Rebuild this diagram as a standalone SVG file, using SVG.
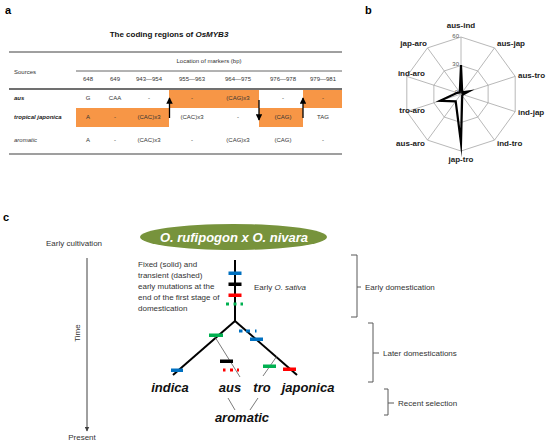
<svg xmlns="http://www.w3.org/2000/svg" width="550" height="443" viewBox="0 0 550 443">
<defs>
<style>
text{font-family:"Liberation Sans",Arial,sans-serif;fill:#222}
.pl{font-size:11px;font-weight:bold;fill:#000}
.tt{font-size:6px;text-anchor:middle;fill:#333}
.rl{font-size:6px;font-weight:bold;font-style:italic;fill:#222}
.rad{font-size:8px;font-weight:bold;fill:#222}
.ax{font-size:6px;fill:#555;text-anchor:end}
.grid{fill:none;stroke:#a6a6a6;stroke-width:0.8}
.tl{stroke:#404040;fill:none}
.org{fill:#f79646}
.c8{font-size:8px;fill:#333}
.br{fill:none;stroke:#595959;stroke-width:1}
.thin{stroke:#595959;stroke-width:0.8;fill:none}
.br2{stroke:#000;stroke-width:2;fill:none}
.lab{font-size:13px;font-weight:bold;font-style:italic;fill:#111}
.bl{fill:#0070c0}.gr{fill:#00b050}.rd{fill:#ff0000}.bk{fill:#000}
</style>
<marker id="ah" viewBox="0 0 10 10" refX="9" refY="5" markerWidth="5" markerHeight="5" orient="auto"><path d="M0,0L10,5L0,10z" fill="#000"/></marker>
<marker id="ahg" viewBox="0 0 10 10" refX="9" refY="5" markerWidth="5" markerHeight="5" orient="auto"><path d="M0,0L10,5L0,10z" fill="#404040"/></marker>
</defs>

<g id="panel-a">
<text class="pl" x="5" y="14">a</text>
<text x="169" y="37" style="font-size:8px;font-weight:bold;text-anchor:middle;fill:#111">The coding regions of <tspan font-style="italic">OsMYB3</tspan></text>
<rect class="org" x="169" y="90" width="90" height="18"/>
<rect class="org" x="303" y="90" width="39" height="18"/>
<rect class="org" x="76" y="108" width="93" height="19"/>
<rect class="org" x="259" y="108" width="44" height="19"/>
<line class="tl" x1="9" y1="52" x2="342" y2="52" stroke-width="1"/>
<line class="tl" x1="76" y1="71" x2="342" y2="71" stroke-width="0.8"/>
<line class="tl" x1="9" y1="89" x2="342" y2="89" stroke-width="1.4"/>
<line class="tl" x1="9" y1="154" x2="342" y2="154" stroke-width="1.2"/>
<text x="209" y="63" class="tt">Location of markers  (bp)</text>
<text x="14" y="74" style="font-size:6px;fill:#333">Sources</text>
<g class="hdr">
<text class="tt" x="88" y="81">648</text><text class="tt" x="115" y="81">649</text><text class="tt" x="149" y="81">943—954</text><text class="tt" x="192" y="81">955—963</text><text class="tt" x="238" y="81">964—975</text><text class="tt" x="283" y="81">976—978</text><text class="tt" x="323" y="81">979—981</text>
</g>
<text class="rl" x="14" y="100">aus</text>
<text class="tt" x="88" y="100">G</text><text class="tt" x="115" y="100">CAA</text><text class="tt" x="149" y="100">-</text><text class="tt" x="192" y="100">-</text><text class="tt" x="238" y="100">(CAG)x3</text><text class="tt" x="283" y="100">-</text><text class="tt" x="323" y="100">-</text>
<text class="rl" x="14" y="119">tropical japonica</text>
<text class="tt" x="88" y="119">A</text><text class="tt" x="115" y="119">-</text><text class="tt" x="149" y="119">(CAC)x3</text><text class="tt" x="192" y="119">(CAC)x3</text><text class="tt" x="238" y="119">-</text><text class="tt" x="283" y="119">(CAG)</text><text class="tt" x="323" y="119">TAG</text>
<text x="14" y="142" style="font-size:6px;font-style:italic;fill:#333">aromatic</text>
<text class="tt" x="88" y="142">A</text><text class="tt" x="115" y="142">-</text><text class="tt" x="149" y="142">(CAC)x3</text><text class="tt" x="192" y="142">-</text><text class="tt" x="238" y="142">(CAG)x3</text><text class="tt" x="283" y="142">(CAG)</text><text class="tt" x="323" y="142">-</text>
<line x1="169.5" y1="118" x2="169.5" y2="98" stroke="#000" stroke-width="1.3" marker-end="url(#ah)"/>
<line x1="259" y1="100" x2="259" y2="120" stroke="#000" stroke-width="1.3" marker-end="url(#ah)"/>
<line x1="303" y1="118" x2="303" y2="98" stroke="#000" stroke-width="1.3" marker-end="url(#ah)"/>
</g>

<g id="panel-b">
<text class="pl" x="365" y="14">b</text>
<polygon class="grid" points="461,37 494.5,47.9 515.2,76.4 515.2,111.6 494.5,140.1 461,151 427.5,140.1 406.8,111.6 406.8,76.4 427.5,47.9"/>
<polygon class="grid" points="461,65.5 477.75,70.94 488.11,85.19 488.11,102.81 477.75,117.06 461,122.5 444.25,117.06 433.89,102.81 433.89,85.19 444.25,70.94"/>
<path class="grid" d="M461,94L461,37M461,94L494.5,47.9M461,94L515.2,76.4M461,94L515.2,111.6M461,94L494.5,140.1M461,94L461,151M461,94L427.5,140.1M461,94L406.8,111.6M461,94L406.8,76.4M461,94L427.5,47.9"/>
<text class="ax" x="459" y="38">60</text>
<text class="ax" x="459" y="66">30</text>
<text class="ax" x="458" y="94">0</text>
<polygon points="461,65 462.2,92.4 468.6,91.5 462.9,94.6 462.2,95.6 461,143 455.7,101.3 440.1,100.8 457.2,92.8 459.8,92.4" fill="none" stroke="#000" stroke-width="2.2" stroke-linejoin="miter" stroke-miterlimit="20"/>
<text class="rad" x="461" y="28" text-anchor="middle">aus-ind</text>
<text class="rad" x="497" y="46">aus-jap</text>
<text class="rad" x="518" y="78">aus-tro</text>
<text class="rad" x="518" y="115">ind-jap</text>
<text class="rad" x="497" y="146">ind-tro</text>
<text class="rad" x="461" y="162" text-anchor="middle">jap-tro</text>
<text class="rad" x="425" y="146" text-anchor="end">aus-aro</text>
<text class="rad" x="425" y="113" text-anchor="end">tro-aro</text>
<text class="rad" x="425" y="76" text-anchor="end">ind-aro</text>
<text class="rad" x="427" y="46" text-anchor="end">jap-aro</text>
</g>

<g id="panel-c">
<text class="pl" x="3" y="221">c</text>
<text class="c8" x="46" y="246">Early cultivation</text>
<line x1="87" y1="258" x2="87" y2="431" stroke="#404040" stroke-width="1" marker-end="url(#ahg)"/>
<text class="c8" x="77" y="333" text-anchor="middle" transform="rotate(-90 77 333)" dy="3">Time</text>
<text class="c8" x="82" y="440" text-anchor="middle">Present</text>

<g id="ancestor">
<ellipse cx="233.5" cy="237" rx="93.5" ry="13" fill="#77933c"/>
<text x="234" y="242" text-anchor="middle" style="font-size:13px;font-weight:bold;font-style:italic;fill:#fff">O. rufipogon  x  O. nivara</text>
</g>

<g id="note">
<text class="c8" x="138" y="267">Fixed (solid)  and</text>
<text class="c8" x="138" y="278">transient  (dashed)</text>
<text class="c8" x="138" y="289">early mutations at the</text>
<text class="c8" x="138" y="300">end of the first stage of</text>
<text class="c8" x="138" y="311">domestication</text>
<text class="c8" x="254" y="290">Early <tspan font-style="italic">O. sativa</tspan></text>
</g>

<g id="connectors">
<line class="br2" x1="235" y1="260" x2="235" y2="321"/>
<line class="br2" x1="235" y1="321" x2="173" y2="375"/>
<line class="br2" x1="235" y1="321" x2="297" y2="375"/>
<line class="thin" x1="215" y1="337" x2="240" y2="377"/>
<line class="thin" x1="277" y1="356" x2="263" y2="376"/>
<line class="thin" x1="228" y1="398" x2="235" y2="410"/>
<line class="thin" x1="258" y1="398" x2="250" y2="410"/>
</g>

<g id="mutations">
<rect class="bl" x="228.5" y="271.5" width="13" height="3.5"/>
<rect class="bk" x="228.5" y="282.5" width="13" height="3.5"/>
<rect class="rd" x="228.5" y="293.5" width="13" height="3.5"/>
<rect class="gr" x="226" y="302.5" width="3" height="3"/><rect class="gr" x="233.5" y="302.5" width="3" height="3"/><rect class="gr" x="240.5" y="302.5" width="2.5" height="3"/>
<rect class="gr" x="209" y="333.5" width="14" height="3.5"/>
<rect class="bl" x="239" y="329.5" width="3.5" height="3"/><rect class="bl" x="246" y="329.5" width="4" height="3"/><rect class="bl" x="255" y="329.5" width="1.5" height="3"/>
<rect class="bl" x="250" y="337.5" width="13" height="3.5"/>
<rect class="bk" x="220" y="359.5" width="13" height="3.5"/>
<rect class="rd" x="223" y="368.5" width="2.5" height="3"/><rect class="rd" x="230" y="368.5" width="3" height="3"/><rect class="rd" x="237" y="368.5" width="2" height="3"/>
<rect class="gr" x="263" y="364.5" width="13" height="3.5"/>
<rect class="rd" x="283" y="367.5" width="13" height="3.5"/>
<rect class="bl" x="171" y="368.5" width="12" height="3.5"/>
</g>

<g id="leaves">
<text class="lab" x="170" y="392" text-anchor="middle">indica</text>
<text class="lab" x="230" y="392" text-anchor="middle">aus</text>
<text class="lab" x="262" y="392" text-anchor="middle">tro</text>
<text class="lab" x="308" y="392" text-anchor="middle">japonica</text>
<text class="lab" x="242" y="422" text-anchor="middle">aromatic</text>
</g>

<g id="brackets">
<path class="br" d="M351,255H357V317H351M357,287H361"/>
<text class="c8" x="365" y="290">Early domestication</text>
<path class="br" d="M368,323H373V382H368M373,353H379"/>
<text class="c8" x="383" y="356">Later domestications</text>
<path class="br" d="M384,389H388V415H384M388,403H394"/>
<text class="c8" x="398" y="406">Recent selection</text>
</g>
</g>
</svg>
